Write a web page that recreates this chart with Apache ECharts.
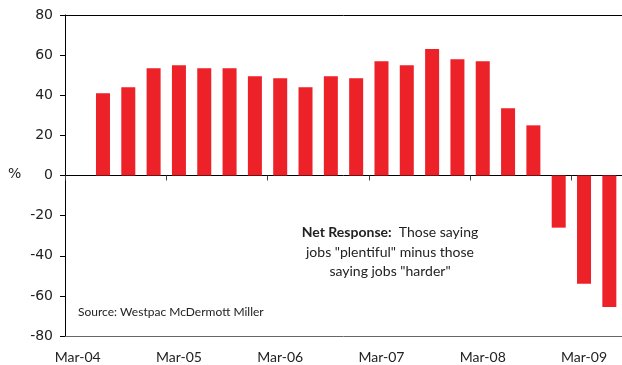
<!DOCTYPE html>
<html>
<head>
<meta charset="utf-8">
<script src="https://cdn.jsdelivr.net/npm/echarts@6/dist/echarts.min.js"></script>
<style>
  html, body { margin: 0; padding: 0; background: #fff; }
  #chart { width: 622px; height: 365px; }
</style>
</head>
<body>
<div id="chart"></div>
<script>
// Quarterly survey periods, Mar-04 to Jun-09
const quarters = [
  'Mar-04', 'Jun-04', 'Sep-04', 'Dec-04',
  'Mar-05', 'Jun-05', 'Sep-05', 'Dec-05',
  'Mar-06', 'Jun-06', 'Sep-06', 'Dec-06',
  'Mar-07', 'Jun-07', 'Sep-07', 'Dec-07',
  'Mar-08', 'Jun-08', 'Sep-08', 'Dec-08',
  'Mar-09', 'Jun-09'
];

// Net response (%): jobs "plentiful" minus jobs "harder"
const netResponse = [
  null, 41, 44, 53.5,
  55, 53.5, 53.5, 49.5,
  48.5, 44, 49.5, 48.5,
  57, 55, 63, 58,
  57, 33.5, 25, -26,
  -54, -65.5
];

const yTicks = { min: -80, max: 80, step: 20 };

const textColor = '#222';
const chart = echarts.init(document.getElementById('chart'));

chart.setOption({
  animation: false,
  grid: { left: 65, right: 0, top: 15, bottom: 29, containLabel: false },
  xAxis: [
    {
      // bottom axis carrying the March labels
      type: 'category',
      data: quarters,
      position: 'bottom',
      boundaryGap: true,
      axisLine: { onZero: false, lineStyle: { color: '#666', width: 1 } },
      axisTick: { show: false },
      axisLabel: {
        interval: 3,
        margin: 14,
        color: textColor,
        fontFamily: 'Lato',
        fontSize: 14
      },
      splitLine: { show: false }
    },
    {
      // zero line with yearly tick marks
      type: 'category',
      data: quarters,
      position: 'bottom',
      boundaryGap: true,
      axisLine: { onZero: true, lineStyle: { color: '#000', width: 1 } },
      axisTick: { show: true, interval: 3, length: 5, lineStyle: { color: '#444' } },
      axisLabel: { show: false },
      splitLine: { show: false }
    },
    {
      // top frame line
      type: 'category',
      data: quarters,
      position: 'top',
      axisLine: { onZero: false, lineStyle: { color: '#000', width: 1 } },
      axisTick: { show: false },
      axisLabel: { show: false },
      splitLine: { show: false }
    }
  ],
  yAxis: {
    type: 'value',
    min: yTicks.min,
    max: yTicks.max,
    interval: yTicks.step,
    axisLine: { show: true, onZero: false, lineStyle: { color: '#000', width: 1 } },
    axisTick: { show: true, length: 5, lineStyle: { color: '#000' } },
    axisLabel: {
      margin: 12,
      color: textColor,
      fontFamily: 'DejaVu Sans',
      fontSize: 14
    },
    splitLine: { show: false }
  },
  series: [
    {
      type: 'bar',
      xAxisIndex: 0,
      data: netResponse,
      barWidth: 14,
      itemStyle: { color: '#ED2128' }
    }
  ],
  graphic: [
    {
      type: 'text',
      left: 8,
      top: 167,
      style: { text: '%', fill: textColor, font: '14px "DejaVu Sans"' }
    },
    {
      type: 'text',
      left: 78,
      top: 306,
      style: {
        text: 'Source: Westpac McDermott Miller',
        fill: textColor,
        font: '12px Lato'
      }
    },
    {
      type: 'text',
      x: 390,
      y: 223,
      style: {
        text: '{b|Net Response:}  Those saying\njobs "plentiful" minus those\nsaying jobs "harder"',
        align: 'center',
        fill: textColor,
        font: '14px Lato',
        lineHeight: 19.5,
        rich: {
          b: { fontWeight: 'bold', fontFamily: 'Lato', fontSize: 14, fill: textColor, lineHeight: 19.5 }
        }
      }
    }
  ]
});
</script>
</body>
</html>
